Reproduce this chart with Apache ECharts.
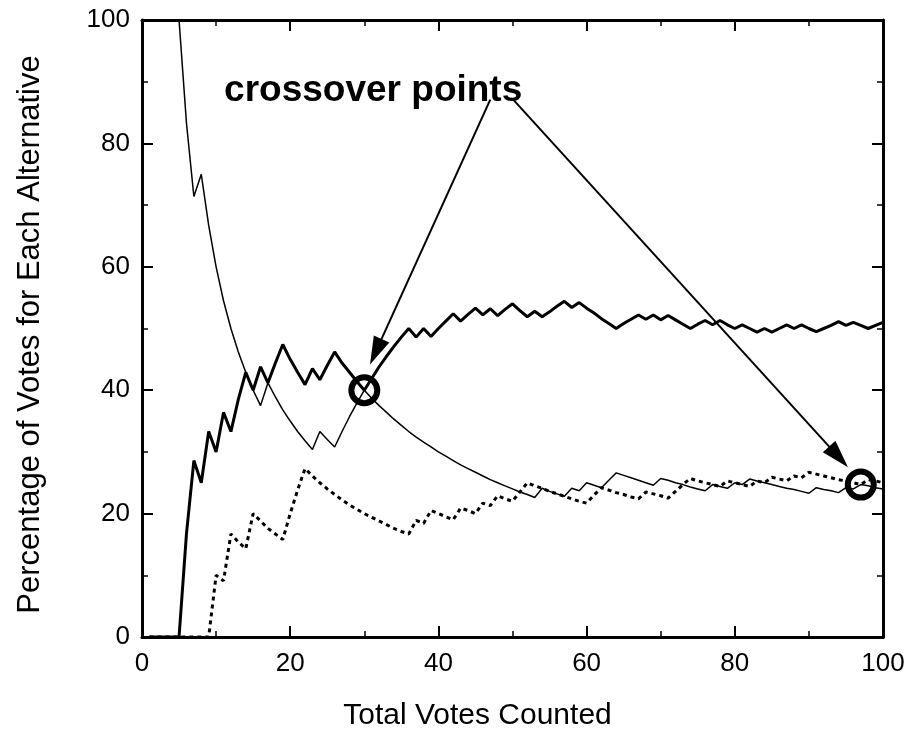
<!DOCTYPE html>
<html>
<head>
<meta charset="utf-8">
<title>Crossover points</title>
<script src="https://cdn.jsdelivr.net/npm/echarts@6/dist/echarts.min.js"></script>
<style>
  html, body { margin: 0; padding: 0; background: #fff; }
  #chart { width: 914px; height: 736px; }
</style>
</head>
<body>
<div id="chart"></div>
<script>
// percentage of the votes counted so far, one value per vote (1..100)
var shareA = [ // thin solid
  100, 100, 100, 100, 100, 83.3, 71.4, 75, 66.7, 60,
  54.5, 50, 46.2, 42.9, 40, 37.5, 41.2, 38.9, 36.8, 35,
  33.3, 31.8, 30.4, 33.3, 32, 30.8, 33.3, 35.7, 37.9, 40,
  38.7, 37.5, 36.4, 35.3, 34.3, 33.3, 32.4, 31.6, 30.8, 30,
  29.3, 28.6, 27.9, 27.3, 26.7, 26.1, 25.5, 25, 24.5, 24,
  23.5, 23.1, 22.6, 24.1, 23.6, 23.2, 22.8, 24.1, 23.7, 25,
  24.6, 24.2, 25.4, 26.6, 26.2, 25.8, 25.4, 25, 24.6, 25.7,
  25.4, 25, 24.7, 24.3, 24, 23.7, 24.7, 24.4, 24.1, 25,
  24.7, 25.6, 25.3, 25, 24.7, 24.4, 24.1, 23.9, 23.6, 23.3,
  24.2, 23.9, 23.7, 23.4, 24.2, 24, 24.7, 24.5, 24.2, 24
];
var shareB = [ // thick solid
  0, 0, 0, 0, 0, 16.7, 28.6, 25, 33.3, 30,
  36.4, 33.3, 38.5, 42.9, 40, 43.8, 41.2, 44.4, 47.4, 45,
  42.9, 40.9, 43.5, 41.7, 44, 46.2, 44.4, 42.9, 41.4, 40,
  41.9, 43.8, 45.5, 47.1, 48.6, 50, 48.6, 50, 48.7, 50,
  51.2, 52.4, 51.2, 52.3, 53.3, 52.2, 53.2, 52.1, 53.1, 54,
  52.9, 51.9, 52.8, 51.9, 52.7, 53.6, 54.4, 53.4, 54.2, 53.3,
  52.5, 51.6, 50.8, 50, 50.8, 51.5, 52.2, 51.5, 52.2, 51.4,
  52.1, 51.4, 50.7, 50, 50.7, 51.3, 50.6, 51.3, 50.6, 50,
  50.6, 50, 49.4, 50, 49.4, 50, 50.6, 50, 50.6, 50,
  49.5, 50, 50.5, 51.1, 50.5, 51, 50.5, 50, 50.5, 51
];
var shareC = [ // dotted
  0, 0, 0, 0, 0, 0, 0, 0, 0, 10,
  9.1, 16.7, 15.4, 14.3, 20, 18.8, 17.6, 16.7, 15.8, 20,
  23.8, 27.3, 26.1, 25, 24, 23.1, 22.2, 21.4, 20.7, 20,
  19.4, 18.8, 18.2, 17.6, 17.1, 16.7, 18.9, 18.4, 20.5, 20,
  19.5, 19, 20.9, 20.5, 20, 21.7, 21.3, 22.9, 22.4, 22,
  23.5, 25, 24.5, 24.1, 23.6, 23.2, 22.8, 22.4, 22, 21.7,
  23, 24.2, 23.8, 23.4, 23.1, 22.7, 22.4, 23.5, 23.2, 22.9,
  22.5, 23.6, 24.7, 25.7, 25.3, 25, 24.7, 24.4, 25.3, 25,
  24.7, 24.4, 25.3, 25, 25.9, 25.6, 25.3, 26.1, 25.8, 26.7,
  26.4, 26.1, 25.8, 25.5, 25.3, 25, 24.7, 25.5, 25.3, 25
];
var votesCounted = shareA.map(function (v, i) { return i + 1; });

// annotation anchors, in data units
var crossovers = [[30, 40], [97, 24.7]];
var labelAt = [31.2, 88.6];
var arrowStarts = [[47.0, 87.1], [50.1, 87.1]];
var arrowEnds = [[31.55, 46.25], [94.0, 29.2]];

var FONT = '"Liberation Sans", Arial, Helvetica, sans-serif';

function pairs(ys) {
    return votesCounted.map(function (x, i) { return [x, ys[i]]; });
}

function frameAxis(pos, showLabels) {
    return {
        type: 'value',
        position: pos,
        min: 0,
        max: 100,
        interval: 20,
        axisLine: { show: true, onZero: false, lineStyle: { color: '#000', width: 3 } },
        axisTick: { show: true, inside: true, length: 11, lineStyle: { color: '#000', width: 2 } },
        minorTick: { show: true, splitNumber: 2, length: 6, lineStyle: { color: '#000', width: 1.5 } },
        splitLine: { show: false },
        axisLabel: { show: showLabels, color: '#000', fontFamily: FONT, fontSize: 26 }
    };
}

var xBottom = frameAxis('bottom', true);
xBottom.axisLabel.margin = 14;
xBottom.name = 'Total Votes Counted';
xBottom.nameLocation = 'middle';
xBottom.nameGap = 64;
xBottom.nameTextStyle = { fontSize: 30, color: '#000', fontFamily: FONT, padding: [0, 70, 0, 0] };

var yLeft = frameAxis('left', true);
yLeft.axisLabel.margin = 12;
yLeft.name = 'Percentage of Votes for Each Alternative';
yLeft.nameLocation = 'middle';
yLeft.nameGap = 96;
yLeft.nameTextStyle = { fontSize: 31, color: '#000', fontFamily: FONT, padding: [0, 12, 0, 0] };

var xTop = frameAxis('top', false);
var yRight = frameAxis('right', false);

var chart = echarts.init(document.getElementById('chart'));
chart.setOption({
    animation: false,
    backgroundColor: '#fff',
    grid: { left: 142, right: 31, top: 20, bottom: 98 },
    xAxis: [xBottom, xTop],
    yAxis: [yLeft, yRight],
    series: [
        {
            name: 'C', type: 'line', data: pairs(shareC), showSymbol: false,
            lineStyle: { color: '#000', width: 3, type: [4, 4] }, z: 2
        },
        {
            name: 'A', type: 'line', data: pairs(shareA), showSymbol: false,
            lineStyle: { color: '#000', width: 1.5 }, z: 3
        },
        {
            name: 'B', type: 'line', data: pairs(shareB), showSymbol: false,
            lineStyle: { color: '#000', width: 3 }, z: 4
        },
        {
            // annotation layer: circles, arrows and the label
            name: 'notes', type: 'line', data: [], z: 6,
            markPoint: {
                silent: true,
                data: crossovers.map(function (c) {
                    return {
                        coord: c, symbol: 'circle', symbolSize: 26,
                        itemStyle: { color: 'rgba(0,0,0,0)', borderColor: '#000', borderWidth: 6 },
                        label: { show: false }
                    };
                }).concat([{
                    coord: labelAt, symbol: 'circle', symbolSize: 1,
                    itemStyle: { color: 'rgba(0,0,0,0)' },
                    label: {
                        show: true, position: 'inside', formatter: 'crossover points',
                        fontSize: 37, fontWeight: 'bold', color: '#000', fontFamily: FONT
                    }
                }])
            },
            markLine: {
                silent: true,
                symbol: ['none', 'none'],
                label: { show: false },
                lineStyle: { color: '#000', width: 2, type: 'solid' },
                itemStyle: { color: '#000' },
                data: arrowStarts.map(function (s, i) {
                    return [
                        { coord: s, symbol: 'none' },
                        {
                            coord: arrowEnds[i],
                            symbol: 'path://M10,0 L20,30 L0,30 Z',
                            symbolSize: [17, 28],
                            symbolKeepAspect: false
                        }
                    ];
                })
            }
        }
    ]
});
</script>
</body>
</html>
